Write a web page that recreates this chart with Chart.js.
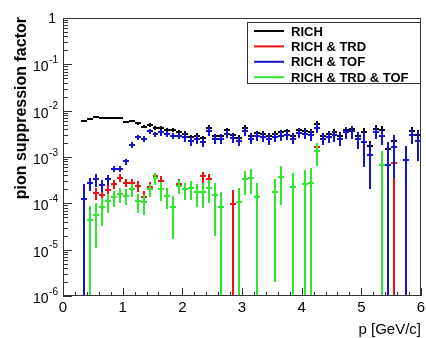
<!DOCTYPE html>
<html>
<head>
<meta charset="utf-8">
<script src="https://cdn.jsdelivr.net/npm/chart.js@4.4.1/dist/chart.umd.min.js"></script>
<style>
  html, body { margin: 0; padding: 0; background: #fff; }
  #wrap { width: 426px; height: 338px; }
</style>
</head>
<body>
<div id="wrap"><canvas id="chart" width="426" height="338"></canvas></div>
<script>
// --- Data: momentum bin centres [GeV/c] and suppression factors per detector combination ---
const pBins = [
  0.35, 0.45, 0.55, 0.65, 0.75, 0.85, 0.95, 1.05, 1.15, 1.25,
  1.35, 1.45, 1.55, 1.65, 1.75, 1.85, 1.95, 2.05, 2.15, 2.25,
  2.35, 2.45, 2.55, 2.65, 2.75, 2.85, 2.95, 3.05, 3.15, 3.25,
  3.35, 3.45, 3.55, 3.65, 3.75, 3.85, 3.95, 4.05, 4.15, 4.25,
  4.35, 4.45, 4.55, 4.65, 4.75, 4.85, 4.95, 5.05, 5.15, 5.25,
  5.35, 5.45, 5.55, 5.65, 5.75, 5.85, 5.95
];
const binHalfWidth = 0.05;

const rich = [
  6.0e-3, 6.5e-3, 7.2e-3, 6.8e-3, 6.8e-3, 6.8e-3, 6.8e-3, 5.8e-3, 6.0e-3, 5.3e-3,
  4.5e-3, 4.9e-3, 4.3e-3, 4.3e-3, 3.9e-3, 3.8e-3, 3.4e-3, 3.2e-3, 2.7e-3, 2.9e-3,
  2.6e-3, 4.3e-3, 2.8e-3, 2.8e-3, 3.8e-3, 3.0e-3, 2.6e-3, 4.3e-3, 2.9e-3, 3.3e-3,
  3.2e-3, 2.9e-3, 3.2e-3, 3.4e-3, 3.6e-3, 2.9e-3, 3.8e-3, 3.7e-3, 3.5e-3, 5.2e-3,
  2.8e-3, 3.1e-3, 3.4e-3, 2.9e-3, 3.9e-3, 4.0e-3, 2.8e-3, 3.5e-3, 1.7e-3, 4.0e-3,
  3.8e-3, 1.5e-3, 2.2e-3, null, null, 3.6e-3, 3.0e-3
];
const richErr = [
  4.0e-4, 3.0e-4, 1.2e-4, 1.0e-4, 1.0e-4, 1.0e-4, 1.0e-4, 1.5e-4, 2.5e-4, 3.0e-4,
  3.5e-4, 4.5e-4, 4.0e-4, 4.0e-4, 3.8e-4, 3.8e-4, 3.6e-4, 3.6e-4, 3.2e-4, 3.4e-4,
  3.1e-4, 5.2e-4, 3.4e-4, 3.4e-4, 4.6e-4, 3.6e-4, 3.2e-4, 5.4e-4, 3.6e-4, 4.1e-4,
  4.0e-4, 3.7e-4, 4.0e-4, 4.3e-4, 4.5e-4, 3.7e-4, 4.8e-4, 4.8e-4, 4.6e-4, 7.0e-4,
  4.5e-4, 5.0e-4, 5.5e-4, 5.0e-4, 6.5e-4, 7.0e-4, 6.0e-4, 7.5e-4, 5.0e-4, 8.0e-4,
  8.0e-4, 5.0e-4, 6.5e-4, null, null, 9.0e-4, 9.0e-4
];

const richTrd = [
  null, 4.4e-5, 1.66e-4, 1.5e-4, 1.95e-4, 2.6e-4, 3.6e-4, 2.8e-4, 2.8e-4, 2.4e-4,
  1.34e-4, 2.3e-4, 3.8e-4, 3.1e-4, 1.45e-4, 8.2e-5, 2.6e-4, 2.0e-4, 2.1e-4, 1.72e-4,
  3.8e-4, 3.4e-4, 1.5e-4, 8.5e-5, null, 9.5e-5, 1.05e-4, 3.3e-4, 3.5e-4, 1.38e-4,
  null, null, 1.72e-4, 3.7e-4, null, 2.2e-4, null, 2.6e-4, 2.8e-4, 1.65e-3,
  null, null, null, null, null, null, null, null, null, null,
  null, null, 7.5e-4, null, null, null, null
];
const richTrdErr = [
  null, 4.5e-5, 5e-5, 5e-5, 5e-5, 6e-5, 7e-5, 6e-5, 6e-5, 6e-5,
  5e-5, 6e-5, 8e-5, 8e-5, 7e-5, 6.5e-5, 7e-5, 8e-5, 9e-5, 9e-5,
  1.0e-4, 1.0e-4, 1.3e-4, 9e-5, null, 9.6e-5, 1.1e-4, 1.8e-4, 1.9e-4, 1.4e-4,
  null, null, 1.7e-4, 2.8e-4, null, 2.3e-4, null, 2.7e-4, 3.0e-4, 4e-4,
  null, null, null, null, null, null, null, null, null, null,
  null, null, 8e-4, null, null, null, null
];

const richTof = [
  1.27e-4, 2.7e-4, 3.3e-4, 2.5e-4, 3.3e-4, 5.6e-4, 5.6e-4, 8.0e-4, 1.85e-3, 2.7e-3,
  2.5e-3, 3.6e-3, 3.1e-3, 3.4e-3, 3.1e-3, 2.9e-3, 2.9e-3, 2.7e-3, 2.2e-3, 2.4e-3,
  2.1e-3, 3.6e-3, 2.4e-3, 2.4e-3, 3.2e-3, 2.6e-3, 2.2e-3, 3.6e-3, 2.5e-3, 2.8e-3,
  2.7e-3, 2.4e-3, 2.7e-3, 2.9e-3, 3.0e-3, 2.5e-3, 3.3e-3, 3.2e-3, 3.0e-3, 4.3e-3,
  2.5e-3, 2.75e-3, 3.0e-3, 2.5e-3, 3.5e-3, 3.6e-3, 2.5e-3, 2.1e-3, 1.1e-3, 3.4e-3,
  2.8e-3, 6.7e-4, 1.66e-3, null, 8.5e-4, 3.0e-3, 2.2e-3
];
const richTofErr = [
  1.3e-4, 0.85e-4, 1.1e-4, 0.7e-4, 0.8e-4, 0.9e-4, 0.9e-4, 1.2e-4, 2.6e-4, 3.5e-4,
  3.5e-4, 5.0e-4, 4.5e-4, 5.0e-4, 4.6e-4, 4.6e-4, 4.6e-4, 5.6e-4, 4.8e-4, 5.2e-4,
  4.6e-4, 7.6e-4, 5.2e-4, 5.2e-4, 6.8e-4, 5.6e-4, 5.0e-4, 7.8e-4, 5.6e-4, 6.2e-4,
  6.0e-4, 5.6e-4, 6.2e-4, 6.6e-4, 7.0e-4, 6.0e-4, 7.6e-4, 7.6e-4, 7.4e-4, 1.0e-3,
  6.6e-4, 7.4e-4, 8.5e-4, 7.8e-4, 1.0e-3, 1.1e-3, 1.0e-3, 1.5e-3, 9.0e-4, 9.5e-4,
  1.0e-3, 1.4e-3, 1.3e-3, null, 9.0e-4, 1.1e-3, 1.4e-3
];

const richTrdTof = [
  null, 4.4e-5, 5.6e-5, 8.2e-5, 1.13e-4, 1.35e-4, 1.58e-4, 1.45e-4, 2.0e-4, 1.13e-4,
  1.05e-4, 2.0e-4, 3.45e-4, 2.0e-4, 1.45e-4, 8.2e-5, 2.4e-4, 2.0e-4, 2.1e-4, 1.72e-4,
  1.8e-4, 2.1e-4, 1.5e-4, 8.5e-5, null, null, 1.05e-4, 3.3e-4, 3.5e-4, 1.38e-4,
  null, null, 1.72e-4, 3.7e-4, null, 2.2e-4, null, 2.6e-4, 2.8e-4, 1.35e-3,
  null, null, null, null, null, null, null, null, null, null,
  6.7e-4, null, null, null, null, null, null
];
const richTrdTofErr = [
  null, 4.5e-5, 4.5e-5, 5e-5, 5e-5, 5e-5, 5.5e-5, 5.5e-5, 6e-5, 5e-5,
  5e-5, 6e-5, 1e-4, 9e-5, 7e-5, 6.5e-5, 8e-5, 8e-5, 9e-5, 9e-5,
  1e-4, 1.1e-4, 1.3e-4, 9e-5, null, null, 1.1e-4, 1.8e-4, 1.9e-4, 1.4e-4,
  null, null, 1.7e-4, 2.8e-4, null, 2.3e-4, null, 2.7e-4, 3.0e-4, 7e-4,
  null, null, null, null, null, null, null, null, null, null,
  7e-4, null, null, null, null, null, null
];

const seriesLabels = ['RICH', 'RICH & TRD', 'RICH & TOF', 'RICH & TRD & TOF'];
const seriesColors = ['#000000', '#f01010', '#1414d2', '#2ee82e'];

const yDecades = [-6, -5, -4, -3, -2, -1, 0];
const xTickLabels = [0, 1, 2, 3, 4, 5, 6];

// --- Build datasets (points carry their own error) ---
const toPoints = (vals, errs) => pBins
  .map((x, i) => (vals[i] == null ? null : { x, y: vals[i], err: errs[i] }))
  .filter(pt => pt !== null);

const datasets = [
  [rich, richErr], [richTrd, richTrdErr], [richTof, richTofErr], [richTrdTof, richTrdTofErr]
].map(([v, e], k) => ({
  label: seriesLabels[k],
  data: toPoints(v, e),
  borderColor: seriesColors[k],
  backgroundColor: seriesColors[k],
  pointRadius: 0,
  showLine: false
}));

const FONT = '"Liberation Sans", Arial, Helvetica, sans-serif';

// error bars: vertical = stat. error, horizontal = bin width
// (snapped to whole pixels so overlapping series cover each other cleanly)
const errorBars = {
  id: 'errorBars',
  afterDatasetsDraw(chart) {
    const { ctx, chartArea: a, scales: { x: xs, y: ys } } = chart;
    ctx.save();
    ctx.beginPath();
    ctx.rect(a.left, a.top, a.right - a.left, a.bottom - a.top);
    ctx.clip();
    ctx.lineWidth = 2;
    ctx.lineCap = 'butt';
    chart.data.datasets.forEach(ds => {
      ctx.strokeStyle = ds.borderColor;
      ds.data.forEach(pt => {
        const px = Math.round(xs.getPixelForValue(pt.x));
        const py = Math.round(ys.getPixelForValue(pt.y));
        const top = Math.round(ys.getPixelForValue(pt.y + pt.err));
        const lo = pt.y - pt.err;
        const bot = lo > 0 ? Math.round(ys.getPixelForValue(lo)) : a.bottom + 4;
        ctx.beginPath();
        ctx.moveTo(px, top);
        ctx.lineTo(px, bot);
        ctx.moveTo(Math.round(xs.getPixelForValue(pt.x - binHalfWidth)), py);
        ctx.lineTo(Math.round(xs.getPixelForValue(pt.x + binHalfWidth)), py);
        ctx.stroke();
      });
    });
    ctx.restore();
  }
};

// frame, inward ticks, labels, titles and legend box
const frameAndAxes = {
  id: 'frameAndAxes',
  afterDraw(chart) {
    const { ctx, chartArea: a, scales: { x: xs, y: ys } } = chart;
    ctx.save();
    ctx.strokeStyle = '#333';
    ctx.lineWidth = 1;
    ctx.strokeRect(a.left + 0.5, a.top + 0.5, a.right - a.left - 1, a.bottom - a.top - 1);

    // y ticks (log)
    ctx.beginPath();
    yDecades.forEach(e => {
      const yy = Math.round(ys.getPixelForValue(Math.pow(10, e))) + 0.5;
      ctx.moveTo(a.left, yy); ctx.lineTo(a.left + 9, yy);
      if (e < 0) {
        for (let m = 2; m <= 9; m++) {
          const ym = Math.round(ys.getPixelForValue(m * Math.pow(10, e))) + 0.5;
          ctx.moveTo(a.left, ym); ctx.lineTo(a.left + 5, ym);
        }
      }
    });
    // x ticks every 0.2, longer at integers
    for (let k = 0; k <= 30; k++) {
      const xx = Math.round(xs.getPixelForValue(k / 5)) + 0.5;
      const len = k % 5 === 0 ? 8 : 4;
      ctx.moveTo(xx, a.bottom); ctx.lineTo(xx, a.bottom - len);
    }
    ctx.stroke();

    ctx.fillStyle = '#000';
    // y labels: 1, 10^-1 ... 10^-6
    yDecades.forEach(e => {
      const yy = ys.getPixelForValue(Math.pow(10, e));
      if (e === 0) {
        ctx.font = '14px ' + FONT;
        ctx.textAlign = 'right';
        ctx.textBaseline = 'middle';
        ctx.fillText('1', 56, yy + 1);
        return;
      }
      const sup = String(e);
      ctx.font = '10px ' + FONT;
      const supW = ctx.measureText(sup).width;
      ctx.textAlign = 'right';
      ctx.textBaseline = 'middle';
      ctx.fillText(sup, 58, yy - 4);
      ctx.font = '14px ' + FONT;
      ctx.fillText('10', 58 - supW - 0.5, yy + 3);
    });

    // x labels
    ctx.font = '15px ' + FONT;
    ctx.textAlign = 'center';
    ctx.textBaseline = 'top';
    xTickLabels.forEach(v => ctx.fillText(String(v), xs.getPixelForValue(v), a.bottom + 4));

    // axis titles
    ctx.textAlign = 'right';
    ctx.textBaseline = 'alphabetic';
    ctx.fillText('p [GeV/c]', a.right, 334);

    ctx.save();
    ctx.translate(26, a.top - 1);
    ctx.rotate(-Math.PI / 2);
    ctx.font = 'bold 16px ' + FONT;
    ctx.textAlign = 'right';
    ctx.fillText('pion suppression factor', 0, 0);
    ctx.restore();

    // legend
    const lx = 247, ly = 22, lw = a.right - 247, lh = 62;
    ctx.fillStyle = '#fff';
    ctx.fillRect(lx, ly, lw, lh);
    ctx.strokeStyle = '#333';
    ctx.strokeRect(lx + 0.5, ly + 0.5, lw - 1, lh - 1);
    ctx.font = 'bold 13px ' + FONT;
    ctx.textAlign = 'left';
    ctx.textBaseline = 'middle';
    seriesLabels.forEach((lab, i) => {
      const ry = 31 + i * 15.4;
      ctx.strokeStyle = seriesColors[i];
      ctx.lineWidth = 2;
      ctx.beginPath();
      ctx.moveTo(254, ry); ctx.lineTo(284, ry);
      ctx.stroke();
      ctx.fillStyle = '#000';
      ctx.fillText(lab, 291, ry + 1);
    });
    ctx.restore();
  }
};

new Chart(document.getElementById('chart'), {
  type: 'scatter',
  data: { datasets },
  options: {
    responsive: false,
    animation: false,
    devicePixelRatio: 1,
    layout: { padding: { left: 63, right: 5, top: 18, bottom: 42 } },
    scales: {
      x: { type: 'linear', min: 0, max: 6, display: false },
      y: { type: 'logarithmic', min: 1e-6, max: 1, display: false }
    },
    plugins: { legend: { display: false }, tooltip: { enabled: false } }
  },
  plugins: [errorBars, frameAndAxes]
});
</script>
</body>
</html>
